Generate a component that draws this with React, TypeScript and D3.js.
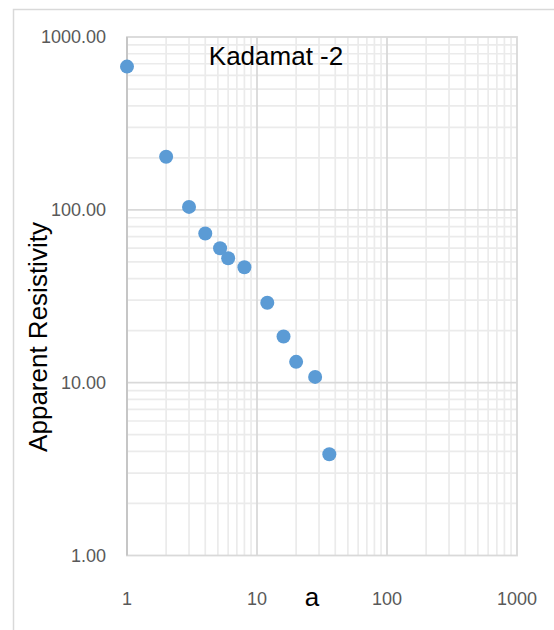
import React from "react";
import * as d3 from "d3";

const spacing = [1, 2, 3, 4, 5.2, 6, 8, 12, 16, 20, 28, 36];
const resistivity = [674, 203, 104, 73, 60, 52.5, 46.5, 29, 18.5, 13.2, 10.8, 3.85];
const xTicks = [1, 10, 100, 1000];
const yTicks = [1, 10, 100, 1000];
const title = "Kadamat -2";
const xTitle = "a";
const yTitle = "Apparent Resistivity";

const W = 554;
const H = 630;
const left = 127;
const right = 517;
const top = 37;
const bottom = 555.5;
const font = "'Liberation Sans', Arial, sans-serif";

function minorTicks(domain: number[]) {
  const out: number[] = [];
  for (let d = domain[0]; d < domain[1]; d *= 10) {
    for (let k = 2; k <= 9; k++) out.push(d * k);
  }
  return out;
}

export default function App() {
  const x = d3.scaleLog().domain([1, 1000]).range([left, right]);
  const y = d3.scaleLog().domain([1, 1000]).range([bottom, top]);
  const xMinor = minorTicks([1, 1000]);
  const yMinor = minorTicks([1, 1000]);
  const fmt = d3.format(".2f");
  const pts = spacing.map((a, i) => ({ a, r: resistivity[i] }));

  return (
    <svg
      width={W}
      height={H}
      style={{ position: "absolute", left: 0, top: 0, background: "#fff" }}
    >
      <rect x={0} y={0} width={W} height={H} fill="#fff" />
      {/* outer chart frame */}
      <path d={`M13.5,${H} V9.5 H${W}`} fill="none" stroke="#d9d9d9" strokeWidth={1.5} />

      {/* minor grid */}
      {xMinor.map((v) => (
        <line key={"xm" + v} x1={x(v)} x2={x(v)} y1={top} y2={bottom} stroke="#ebebeb" strokeWidth={1.7} />
      ))}
      {yMinor.map((v) => (
        <line key={"ym" + v} x1={left} x2={right} y1={y(v)} y2={y(v)} stroke="#ebebeb" strokeWidth={1.7} />
      ))}
      {/* major grid */}
      {xTicks.slice(1, -1).map((v) => (
        <line key={"xM" + v} x1={x(v)} x2={x(v)} y1={top} y2={bottom} stroke="#d9d9d9" strokeWidth={1.8} />
      ))}
      {yTicks.slice(1, -1).map((v) => (
        <line key={"yM" + v} x1={left} x2={right} y1={y(v)} y2={y(v)} stroke="#d9d9d9" strokeWidth={1.8} />
      ))}
      {/* plot border */}
      <rect x={left} y={top} width={right - left} height={bottom - top} fill="none" stroke="#d9d9d9" strokeWidth={1.8} />
      <line x1={left} x2={left} y1={top} y2={bottom} stroke="#c6c6c6" strokeWidth={2} />

      {/* y tick labels */}
      {yTicks.map((v) => (
        <text
          key={"yl" + v}
          x={106}
          y={y(v)}
          dy="0.36em"
          textAnchor="end"
          fontFamily={font}
          fontSize={18}
          fill="#595959"
        >
          {fmt(v)}
        </text>
      ))}
      {/* x tick labels */}
      {xTicks.map((v) => (
        <text
          key={"xl" + v}
          x={x(v)}
          y={605}
          textAnchor="middle"
          fontFamily={font}
          fontSize={18}
          fill="#595959"
        >
          {String(v)}
        </text>
      ))}

      {/* points */}
      {pts.map((p, i) => (
        <circle key={"p" + i} cx={x(p.a)} cy={y(p.r)} r={7} fill="#5b9bd5" />
      ))}

      {/* titles */}
      <text x={276} y={65} textAnchor="middle" fontFamily={font} fontSize={26} fill="#000">
        {title}
      </text>
      <text x={312} y={606} textAnchor="middle" fontFamily={font} fontSize={26} fill="#000">
        {xTitle}
      </text>
      <text
        transform={`translate(47,337) rotate(-90)`}
        textAnchor="middle"
        fontFamily={font}
        fontSize={26}
        fill="#000"
      >
        {yTitle}
      </text>
    </svg>
  );
}
